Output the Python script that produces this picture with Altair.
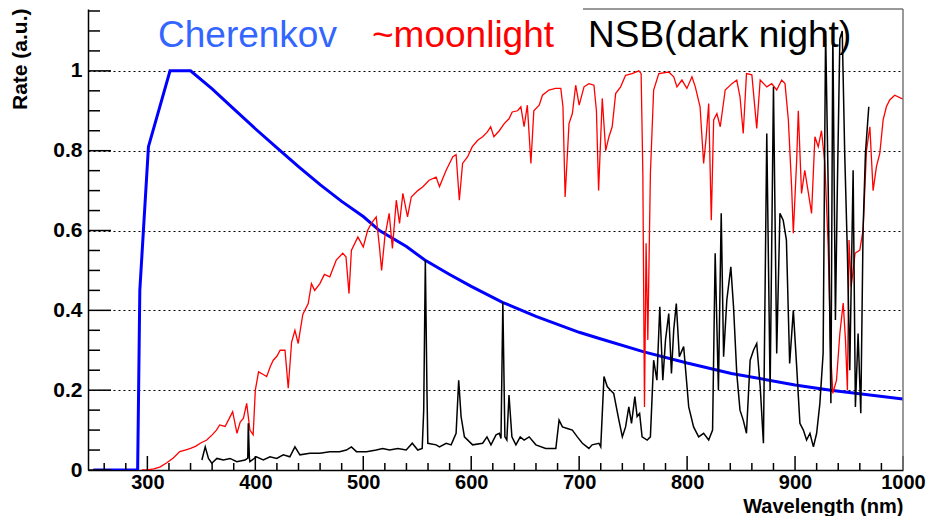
import altair as alt
import pandas as pd

# ---------------- data ----------------
cher_wl = [250, 291, 293, 301, 321, 340, 360, 380, 400, 423, 440, 460, 480, 500, 515,
           540, 557, 580, 600, 629, 660, 700, 718, 760, 800, 841, 900, 933, 1000]
cher_val = [0, 0, 0.45, 0.81, 1.0, 1.0, 0.955, 0.905, 0.855, 0.80, 0.76, 0.715, 0.673, 0.635, 0.60,
            0.56, 0.526, 0.49, 0.46, 0.42, 0.385, 0.345, 0.33, 0.296, 0.268, 0.242, 0.213, 0.20, 0.178]

moon_wl = [295, 300, 306, 312, 318, 324, 330, 335, 340, 345, 349, 355, 360, 364, 367, 372, 376, 379,
           383, 386, 389, 392, 395, 398, 400, 403, 407, 410.5, 414, 416.6, 420, 423, 427.5, 430.5,
           433.6, 436.7, 439.7, 444, 449, 452, 455, 459.8, 464, 469, 475, 481, 484, 486.8, 489, 495,
           500, 504, 507.5, 512, 515, 517, 520, 524, 527, 530.6, 533.6, 536.7, 541, 544.5, 550.5, 555,
           561, 567.5, 570.6, 576.8, 583, 586, 589, 592, 596.7, 601, 606, 610.6, 615, 618, 621, 626,
           630.6, 635, 638, 643, 646, 649, 652, 655.3, 658, 663, 666, 672, 678, 683, 685, 687, 690.6,
           693.7, 696.8, 700, 704.5, 709, 713.7, 716, 718, 721.4, 724.6, 727.6, 730.6, 733.8, 738.4,
           743, 749, 755.3, 757.4, 759, 760.5, 762, 763.6, 766, 769, 773.8, 783, 787.6, 790.6, 795.2,
           799.8, 804.5, 807.6, 812, 815.3, 817.4, 820, 822.4, 824.6, 827.6, 830.7, 835.3, 841.5, 846,
           849, 852, 855, 860, 864.5, 867.7, 873.8, 878.4, 883, 887.6, 890.7, 893.8, 896.8, 898.4,
           901.5, 903, 906, 909, 912, 915.3, 918.4, 921.5, 924.5, 927.6, 930.7, 933, 935, 938.4, 941.5,
           944.6, 946.7, 948.5, 950, 952, 955.6, 960, 963, 966.2, 969.3, 972.3, 975.4, 978.5, 981.6,
           984.6, 987.7, 992.3, 998.5, 1000]
moon_val = [0, 0.0, 0.003, 0.008, 0.018, 0.03, 0.046, 0.05, 0.054, 0.06, 0.067, 0.075, 0.088, 0.10,
            0.113, 0.109, 0.13, 0.146, 0.092, 0.12, 0.13, 0.167, 0.10, 0.088, 0.20, 0.246, 0.24, 0.234,
            0.26, 0.275, 0.285, 0.30, 0.30, 0.205, 0.32, 0.35, 0.317, 0.39, 0.417, 0.467, 0.45, 0.467,
            0.49, 0.484, 0.526, 0.543, 0.534, 0.442, 0.55, 0.584, 0.559, 0.60, 0.618, 0.634, 0.559, 0.50,
            0.584, 0.643, 0.555, 0.676, 0.618, 0.693, 0.634, 0.684, 0.70, 0.709, 0.726, 0.734, 0.71,
            0.751, 0.785, 0.79, 0.676, 0.768, 0.785, 0.81, 0.826, 0.835, 0.847, 0.86, 0.835, 0.85,
            0.868, 0.88, 0.897, 0.90, 0.91, 0.86, 0.914, 0.768, 0.90, 0.914, 0.939, 0.952, 0.956, 0.956,
            0.91, 0.684, 0.868, 0.893, 0.964, 0.914, 0.96, 0.968, 0.964, 0.90, 0.70, 0.931, 0.80, 0.835,
            0.86, 0.943, 0.96, 0.989, 0.993, 1.0, 0.993, 0.743, 0.158, 0.568, 0.326, 0.743, 0.952, 0.993,
            0.997, 0.985, 0.96, 0.977, 0.956, 0.985, 0.96, 0.91, 0.768, 0.826, 0.918, 0.626, 0.877,
            0.893, 0.86, 0.952, 0.968, 0.977, 0.935, 0.843, 0.993, 0.99, 0.856, 0.977, 0.96, 0.968,
            0.952, 0.977, 0.968, 0.877, 0.71, 0.593, 0.776, 0.90, 0.693, 0.751, 0.70, 0.643, 0.835,
            0.81, 0.85, 0.768, 0.559, 0.292, 0.192, 0.225, 0.342, 0.418, 0.326, 0.20, 0.576, 0.459,
            0.543, 0.551, 0.601, 0.801, 0.86, 0.70, 0.76, 0.793, 0.877, 0.91, 0.927, 0.939, 0.931, 0.93]

nsb_wl = [350.5, 353.6, 356.6, 359.7, 364.4, 370.4, 376.6, 382.8, 390.5, 393, 393.5, 394.5, 395,
          401, 407.4, 413.6, 419.8, 425.9, 432, 436.7, 441.3, 450.5, 459.8, 469, 478, 484.4, 489,
          493.7, 503, 512, 518, 524.4, 532, 539.8, 545.4, 550.5, 554.6, 556, 557.5, 559, 559.8, 567.5,
          570.6, 576.8, 581.4, 586, 588.4, 590.6, 593.7, 601.3, 610.6, 614.6, 618.3, 623, 626, 627.6,
          629.3, 631.2, 633, 635, 637.7, 641.4, 645.4, 649, 653.7, 659.9, 669, 678.4, 681.4, 684.5,
          689, 693.7, 698.3, 703, 709, 712, 718.3, 720, 723, 726, 729, 732, 736.8, 740, 743, 746,
          748.5, 751.6, 753.7, 756, 758.3, 763, 766, 769, 772, 774.7, 777.5, 780, 783, 785.5, 787.6,
          790, 792.8, 796.8, 801.5, 806, 810.7, 815.3, 820, 823.6, 826, 829, 831.6, 833.8, 836.8,
          840.5, 843, 846, 849, 852, 855, 858.4, 861.5, 864.5, 867.7, 870.7, 873.8, 876.9, 880, 883,
          886, 889, 892, 895, 898.4, 901.5, 904.5, 907.7, 910.7, 913.8, 917, 920, 923, 926, 928.3,
          930.7, 933.2, 935, 937.4, 939.2, 941.5, 943.7, 946, 948.5, 950.7, 953.8, 955.9, 958.4,
          960.9, 963, 965.2, 968.3]
nsb_val = [0.025, 0.058, 0.029, 0.017, 0.029, 0.025, 0.029, 0.021, 0.025, 0.03, 0.117, 0.03, 0.021,
           0.033, 0.025, 0.033, 0.029, 0.038, 0.033, 0.058, 0.038, 0.042, 0.042, 0.046, 0.046, 0.05,
           0.058, 0.046, 0.046, 0.05, 0.054, 0.05, 0.054, 0.05, 0.067, 0.05, 0.054, 0.15, 0.526, 0.20,
           0.067, 0.063, 0.058, 0.067, 0.063, 0.092, 0.225, 0.134, 0.083, 0.063, 0.067, 0.083, 0.063,
           0.088, 0.092, 0.079, 0.42, 0.083, 0.075, 0.188, 0.083, 0.063, 0.083, 0.075, 0.083, 0.063,
           0.054, 0.054, 0.125, 0.108, 0.104, 0.10, 0.083, 0.067, 0.054, 0.063, 0.067, 0.058, 0.234,
           0.209, 0.20, 0.192, 0.125, 0.083, 0.108, 0.158, 0.117, 0.184, 0.134, 0.142, 0.083, 0.075,
           0.083, 0.275, 0.225, 0.409, 0.225, 0.326, 0.392, 0.242, 0.351, 0.417, 0.284, 0.309, 0.158,
           0.108, 0.083, 0.092, 0.075, 0.10, 0.543, 0.20, 0.643, 0.284, 0.426, 0.509, 0.409, 0.242,
           0.15, 0.125, 0.092, 0.275, 0.30, 0.317, 0.209, 0.067, 0.843, 0.20, 0.96, 0.292, 0.643,
           0.626, 0.576, 0.267, 0.40, 0.259, 0.117, 0.10, 0.075, 0.092, 0.058, 0.092, 0.167, 0.292,
           1.10, 0.71, 0.167, 1.10, 0.376, 0.71, 1.08, 1.10, 0.793, 0.543, 0.25, 0.751, 0.158, 0.342,
           0.142, 0.60, 0.793, 0.91]

y_major = [0, 0.2, 0.4, 0.6, 0.8, 1.0]
y_minor = [0.05, 0.1, 0.15, 0.25, 0.3, 0.35, 0.45, 0.5, 0.55, 0.65, 0.7, 0.75,
           0.85, 0.9, 0.95, 1.05, 1.1, 1.15]
x_major = [300, 400, 500, 600, 700, 800, 900, 1000]
x_minor = [260, 280, 320, 340, 360, 380, 420, 440, 460, 480, 520, 540, 560, 580,
           620, 640, 660, 680, 720, 740, 760, 780, 820, 840, 860, 880, 920, 940, 960, 980]

legend_labels = ["Cherenkov", "~moonlight", "NSB(dark night)"]
legend_colors = ["#3366ff", "#ff0000", "#000000"]

# ---------------- chart ----------------
W, H = 815, 461
FONT = "Liberation Sans"
xs = alt.Scale(domain=[245, 1000], nice=False, zero=False)
ys = alt.Scale(domain=[0, 1.155], nice=False, zero=False)

x_axis = alt.Axis(values=x_major, format="d", labelFont=FONT, labelFontWeight="bold",
                  labelFontSize=20, labelColor="black", labelPadding=2, labelFlush=False,
                  labelOverlap=False, ticks=False, grid=False,
                  domainColor="black", domainWidth=1.5,
                  title="Wavelength (nm)", titleFont=FONT, titleFontWeight="bold",
                  titleFontSize=20, titleColor="black", titleAnchor="end", titleAlign="right",
                  titleX=W, titleY=42, titleBaseline="alphabetic")
y_axis = alt.Axis(values=y_major,
                  labelExpr="datum.value == 0 ? '0' : (datum.value == 1 ? '1' : format(datum.value, '.1f'))",
                  labelFont=FONT, labelFontWeight="bold", labelFontSize=21, labelColor="black",
                  labelPadding=6, ticks=False, grid=True, gridDash=[2, 3], gridColor="black",
                  gridWidth=1, gridOpacity=1, domainColor="black", domainWidth=1.5,
                  title="Rate (a.u.)", titleFont=FONT, titleFontWeight="bold", titleFontSize=21,
                  titleColor="black", titleAngle=270, titleAlign="right",
                  titleBaseline="alphabetic", titleX=-62, titleY=-1)


def X():
    return alt.X("wl:Q", scale=xs, axis=x_axis)


def Y():
    return alt.Y("val:Q", scale=ys, axis=y_axis)


cher_df = pd.DataFrame({"wl": cher_wl, "val": cher_val})
moon_df = pd.DataFrame({"wl": moon_wl, "val": moon_val})
nsb_df = pd.DataFrame({"wl": nsb_wl, "val": nsb_val})

cher = alt.Chart(cher_df).mark_line(color="#0000ff", strokeWidth=3, clip=True).encode(x=X(), y=Y())
moon = alt.Chart(moon_df).mark_line(color="#ff0000", strokeWidth=1.3, clip=True).encode(x=X(), y=Y())
nsb = alt.Chart(nsb_df).mark_line(color="#000000", strokeWidth=1.5, clip=True).encode(x=X(), y=Y())

ytm = alt.Chart(pd.DataFrame({"val": y_major})).mark_rule(color="black", strokeWidth=1.5).encode(
    y=Y(), x=alt.value(0), x2=alt.value(23))
ytn = alt.Chart(pd.DataFrame({"val": y_minor})).mark_rule(color="black", strokeWidth=1.5).encode(
    y=Y(), x=alt.value(0), x2=alt.value(12))
xtm = alt.Chart(pd.DataFrame({"wl": x_major})).mark_rule(color="black", strokeWidth=1.5).encode(
    x=X(), y=alt.value(H), y2=alt.value(H - 14))
xtn = alt.Chart(pd.DataFrame({"wl": x_minor})).mark_rule(color="black", strokeWidth=1.5).encode(
    x=X(), y=alt.value(H), y2=alt.value(H - 7))

frame_r = alt.Chart(pd.DataFrame({"a": [0]})).mark_rule(color="#777777", strokeWidth=1.5).encode(
    x=alt.value(W), y=alt.value(0), y2=alt.value(H))
frame_t = alt.Chart(pd.DataFrame({"a": [0]})).mark_rule(color="#777777", strokeWidth=1.5).encode(
    x=alt.value(495), x2=alt.value(W), y=alt.value(0))

texts = []
for lab, col, px in zip(legend_labels, legend_colors, [70, 284, 500]):
    texts.append(
        alt.Chart(pd.DataFrame({"t": [lab]})).mark_text(
            font=FONT, fontSize=37, color=col, align="left", baseline="alphabetic"
        ).encode(x=alt.value(px), y=alt.value(38), text=alt.Text("t:N"))
    )

chart = alt.layer(cher, moon, nsb, ytm, ytn, xtm, xtn, frame_r, frame_t, *texts).properties(
    width=W, height=H,
    padding={"left": 88, "top": 9, "right": 23, "bottom": 46},
    autosize=alt.AutoSizeParams(type="none"),
    background="white",
).configure_view(stroke=None)

chart.save("out.html", embed_options={"renderer": "svg", "actions": False})
